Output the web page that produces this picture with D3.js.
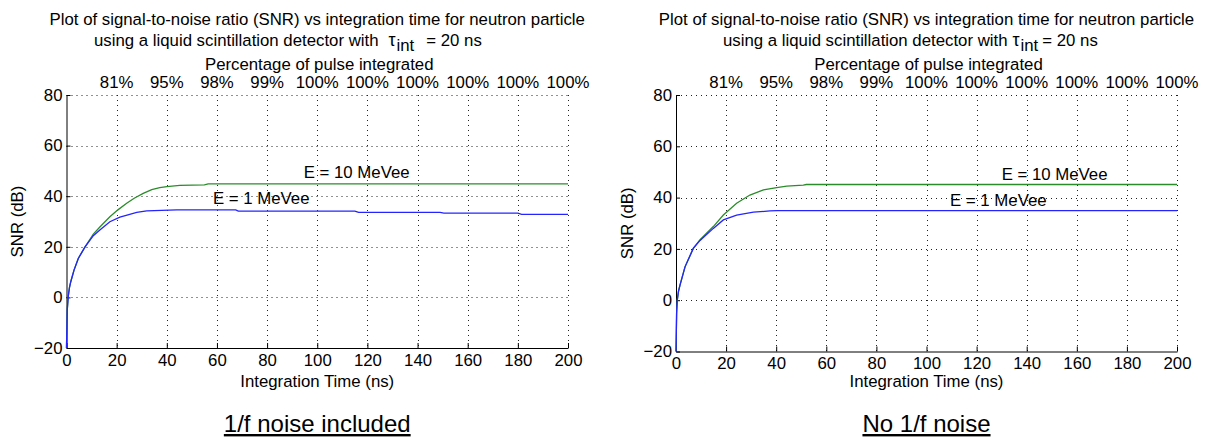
<!DOCTYPE html>
<html>
<head>
<meta charset="utf-8">
<script src="https://cdn.jsdelivr.net/npm/d3@7"></script>
<style>
  body { margin: 0; background: #fff; }
  svg { display: block; font-family: "Liberation Sans", Arial, sans-serif; }
  .grid line { stroke: #222; stroke-width: 1; stroke-dasharray: 1,4; }
  .axis path, .axis line { stroke: #000; stroke-width: 1; }
  .axis text { font-size: 16.8px; fill: #000; font-family: "Liberation Sans", Arial, sans-serif; }
</style>
</head>
<body>
<svg id="chart" width="1213" height="437"></svg>
<script>
// axis ticks
const xTicks = [0, 20, 40, 60, 80, 100, 120, 140, 160, 180, 200];
const yTicks = [-20, 0, 20, 40, 60, 80];
const pctTicks = [20, 40, 60, 80, 100, 120, 140, 160, 180, 200];
const pctLabels = ["81%", "95%", "98%", "99%", "100%", "100%", "100%", "100%", "100%", "100%"];

// left panel: 1/f noise included
const timeLeft10 = [0, 0.3, 0.7, 1.2, 1.7, 3, 4.7, 7.4, 10.7, 13.3, 17.3, 20.5, 24, 27, 30.6, 34, 37.2, 40, 45.2, 55, 56.5, 200];
const snrLeft10  = [-20, -5, 0.5, 4, 6.2, 10.8, 15.4, 20, 25, 27.8, 31.9, 34.6, 37.2, 39.2, 41.1, 42.6, 43.4, 43.8, 44.3, 44.5, 44.9, 44.9];
const timeLeft1 = [0, 0.3, 0.7, 1.2, 1.7, 3, 4.7, 7.4, 10.7, 13.3, 17.3, 21.3, 24.5, 28, 32, 38, 44, 67.5, 68.5, 115, 116.5, 149, 150.5, 180, 181.5, 200];
const snrLeft1  = [-20, -5, 0.5, 4, 6.2, 10.8, 15.4, 20, 24.4, 26.6, 29.9, 31.7, 32.6, 33.6, 34.2, 34.4, 34.6, 34.6, 34.1, 34.1, 33.6, 33.6, 33.3, 33.3, 32.8, 32.8];

// right panel: no 1/f noise
const timeRight10 = [0, 0.25, 0.5, 1, 1.6, 3.6, 6.9, 9.6, 14.9, 18.9, 24.2, 29.5, 34.9, 40.2, 44.2, 50.8, 52, 200];
const snrRight10  = [-20, -5, 0, 3.5, 5.9, 13, 20.2, 23.6, 28.7, 33.2, 37.8, 41, 43, 43.9, 44.5, 44.9, 45.1, 45.1];
const timeRight1 = [0, 0.25, 0.5, 1, 1.6, 3.6, 6.9, 9.6, 14.9, 18.9, 24.2, 30.9, 37.5, 40.2, 200];
const snrRight1  = [-20, -5, 0, 3.5, 5.9, 13, 20.2, 23.3, 28, 31.3, 33.2, 34.3, 34.8, 34.95, 34.95];

const panels = [
  {
    left: 66.5, right: 568, top: 95, bottom: 348,
    title2Start: 94, tauGap: 10, eqGap: 12,
    caption: "1/f noise included",
    series: [
      { t: timeLeft10, v: snrLeft10, color: "#2b8c2b", label: "E = 10 MeVee", lt: 94.6, lv: 47.2 },
      { t: timeLeft1, v: snrLeft1, color: "#2424ff", label: "E = 1 MeVee", lt: 58.4, lv: 36.9 }
    ]
  },
  {
    left: 676, right: 1177, top: 95, bottom: 351.5,
    title2Start: 723, tauGap: 5, eqGap: 4,
    caption: "No 1/f noise",
    series: [
      { t: timeRight10, v: snrRight10, color: "#2b8c2b", label: "E = 10 MeVee", lt: 130, lv: 46.9 },
      { t: timeRight1, v: snrRight1, color: "#2424ff", label: "E = 1 MeVee", lt: 109.4, lv: 36.9 }
    ]
  }
];

const svg = d3.select("#chart");
const fs = 16.8;

panels.forEach(p => {
  const x = d3.scaleLinear().domain([0, 200]).range([p.left, p.right]);
  const y = d3.scaleLinear().domain([-20, 80]).range([p.bottom, p.top]);
  const cx = (p.left + p.right) / 2;
  const g = svg.append("g");

  // dotted grid
  const grid = g.append("g").attr("class", "grid");
  grid.selectAll(".gy").data(yTicks.filter(d => d > -20)).join("line")
    .attr("x1", p.left).attr("x2", p.right)
    .attr("y1", d => Math.round(y(d)) + 0.5).attr("y2", d => Math.round(y(d)) + 0.5);
  grid.selectAll(".gx").data(xTicks.filter(d => d > 0)).join("line")
    .attr("x1", d => Math.round(x(d)) + 0.5).attr("x2", d => Math.round(x(d)) + 0.5)
    .attr("y1", p.top).attr("y2", p.bottom);

  // axes
  g.append("g").attr("class", "axis")
    .attr("transform", `translate(0,${p.bottom})`)
    .call(d3.axisBottom(x).tickValues(xTicks).tickSize(-5).tickSizeOuter(0).tickPadding(6));
  g.append("g").attr("class", "axis")
    .attr("transform", `translate(${p.left},0)`)
    .call(d3.axisLeft(y).tickValues(yTicks).tickSize(-4).tickSizeOuter(0).tickPadding(4));

  // top percentage labels
  g.append("g").selectAll("text").data(pctTicks).join("text")
    .attr("x", d => x(d)).attr("y", 88)
    .attr("text-anchor", "middle").attr("font-size", fs)
    .text((d, i) => pctLabels[i]);
  g.append("text").attr("x", cx + 2).attr("y", 70)
    .attr("text-anchor", "middle").attr("font-size", fs)
    .text("Percentage of pulse integrated");

  // title
  g.append("text").attr("x", cx).attr("y", 25)
    .attr("text-anchor", "middle").attr("font-size", fs)
    .text("Plot of signal-to-noise ratio (SNR) vs integration time for neutron particle");
  const t2 = g.append("text").attr("x", p.title2Start).attr("y", 46)
    .attr("font-size", fs);
  t2.append("tspan").text("using a liquid scintillation detector with");
  t2.append("tspan").attr("dx", p.tauGap).attr("font-size", fs + 1).text("\u03c4");
  t2.append("tspan").attr("dx", 1).attr("dy", 5).text("int");
  t2.append("tspan").attr("dx", p.eqGap).attr("dy", -5).text("= 20 ns");

  // axis titles
  g.append("text").attr("x", cx).attr("y", 387)
    .attr("text-anchor", "middle").attr("font-size", fs)
    .text("Integration Time (ns)");
  g.append("text")
    .attr("transform", `translate(${p.left - 49},${(p.top + p.bottom) / 2}) rotate(-90)`)
    .attr("text-anchor", "middle").attr("dy", "0.35em").attr("font-size", fs)
    .text("SNR (dB)");

  // curves
  const line = d3.line().x(d => x(d[0])).y(d => y(d[1]));
  p.series.forEach(s => {
    g.append("path")
      .datum(s.t.map((t, i) => [t, s.v[i]]))
      .attr("fill", "none").attr("stroke", s.color).attr("stroke-width", 1.3)
      .attr("d", line);
    g.append("text").attr("x", x(s.lt)).attr("y", y(s.lv))
      .attr("font-size", fs)
      .text(s.label);
  });

  // caption
  g.append("text").attr("x", cx).attr("y", 432)
    .attr("text-anchor", "middle").attr("font-size", 24)
    .attr("text-decoration", "underline")
    .text(p.caption);
});
</script>
</body>
</html>
